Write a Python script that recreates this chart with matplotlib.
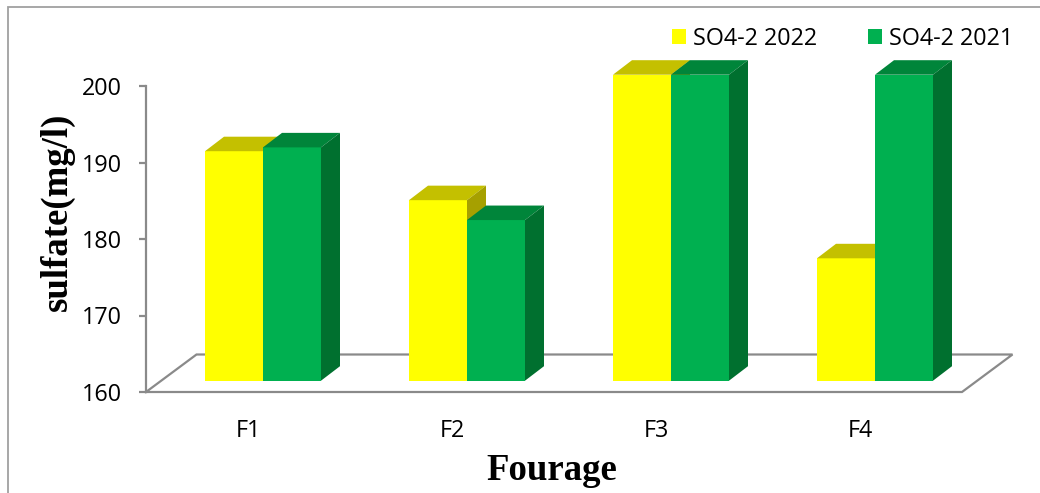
import matplotlib
matplotlib.use("Agg")
import matplotlib.pyplot as plt
from matplotlib.patches import Polygon, Rectangle, Patch
from matplotlib.lines import Line2D

# ---- data ----
categories = ["F1", "F2", "F3", "F4"]
so4_2022 = [190, 183.6, 200, 176]
so4_2021 = [190.5, 181, 200, 200]
series_labels = ["SO4-2 2022", "SO4-2 2021"]
y_ticks = [160, 170, 180, 190, 200]

# ---- styling ----
W, H = 1040, 493
YELLOW = dict(front="#FFFF00", top="#C4C000", side="#A6A000")
GREEN = dict(front="#00B050", top="#00853A", side="#00702F")
AXIS_GRAY = "#8A8A8A"
TICK_FONT = "Open Sans"
TITLE_FONT = "Liberation Serif"
LABEL_SIZE = 16.8

fig = plt.figure(figsize=(W / 100, H / 100), dpi=100)
fig.patch.set_facecolor("white")

# axes box = front edge of the floor and the value axis
ax_l, ax_r, ax_t, ax_b = 146, 962, 86, 392
ax = fig.add_axes([ax_l / W, (H - ax_b) / H, (ax_r - ax_l) / W, (ax_b - ax_t) / H])
ymin, ymax = 160, 200
ax.set_xlim(0, len(categories))
ax.set_ylim(ymin, ymax)
ax.set_facecolor("none")

# pixel -> data unit conversion for the oblique (depth) offsets
ux = len(categories) / (ax_r - ax_l)
uy = (ymax - ymin) / (ax_b - ax_t)

floor_dx, floor_dy = 50.5 * ux, 37.5 * uy     # full floor depth
front_dx, front_dy = 15 * ux, 11.3 * uy       # bar front plane inside the floor
bar_dx, bar_dy = 19 * ux, 14.5 * uy           # bar depth
bar_w = 58 * ux

# floor outline
fx = [0, len(categories), len(categories) + floor_dx, floor_dx, 0]
fy = [ymin, ymin, ymin + floor_dy, ymin + floor_dy, ymin]
ax.add_line(Line2D(fx, fy, color=AXIS_GRAY, lw=1.6, clip_on=False, zorder=1,
                   solid_joinstyle="miter"))


def draw_bar(x0, value, colors, z):
    """Oblique 3-D bar whose front face starts at x0 on the bar plane."""
    bx0 = x0 + front_dx
    bx1 = bx0 + bar_w
    base = ymin + front_dy
    top = value + front_dy
    front = ax.bar(bx0, value - ymin, width=bar_w, bottom=base, align="edge",
                   color=colors["front"], linewidth=0, zorder=z, clip_on=False)
    top_face = Polygon([(bx0, top), (bx1, top), (bx1 + bar_dx, top + bar_dy),
                        (bx0 + bar_dx, top + bar_dy)], closed=True,
                       facecolor=colors["top"], edgecolor="none", zorder=z,
                       clip_on=False)
    side_face = Polygon([(bx1, base), (bx1 + bar_dx, base + bar_dy),
                         (bx1 + bar_dx, top + bar_dy), (bx1, top)], closed=True,
                        facecolor=colors["side"], edgecolor="none", zorder=z,
                        clip_on=False)
    ax.add_patch(top_face)
    ax.add_patch(side_face)
    return front


z = 2
for i, cat in enumerate(categories):
    center = i + 0.5
    draw_bar(center - bar_w, so4_2022[i], YELLOW, z)
    z += 1
    draw_bar(center, so4_2021[i], GREEN, z)
    z += 1

# value axis
for s in ["top", "right", "bottom"]:
    ax.spines[s].set_visible(False)
ax.spines["left"].set_color(AXIS_GRAY)
ax.spines["left"].set_linewidth(1.6)
ax.set_yticks(y_ticks)
ax.set_yticklabels([str(v) for v in y_ticks], fontfamily=TICK_FONT,
                   fontsize=LABEL_SIZE)
ax.tick_params(axis="y", direction="out", length=5, width=1.6, color=AXIS_GRAY,
               pad=12.5, labelcolor="black")

# category axis labels
ax.set_xticks([i + 0.5 for i in range(len(categories))])
ax.set_xticklabels(categories, fontfamily=TICK_FONT, fontsize=LABEL_SIZE)
ax.tick_params(axis="x", length=0, pad=19.5)

# axis titles
fig.text(57 / W, (H - 212) / H, "sulfate(mg/l)", rotation=90, ha="center",
         va="center", fontfamily=TITLE_FONT, fontweight="bold", fontsize=26.5)
fig.text(552 / W, (H - 480) / H, "Fourage", ha="center", va="baseline",
         fontfamily=TITLE_FONT, fontweight="bold", fontsize=26.5)

# legend
handles = [Patch(facecolor=YELLOW["front"], edgecolor="none", label=series_labels[0]),
           Patch(facecolor=GREEN["front"], edgecolor="none", label=series_labels[1])]
fig.legend(handles=handles, ncol=2, frameon=False, loc="center left",
           bbox_to_anchor=(671.7 / W, (H - 39) / H), borderaxespad=0, borderpad=0,
           prop=dict(family=TICK_FONT, size=LABEL_SIZE), handlelength=0.6,
           handleheight=0.6, handletextpad=0.31, columnspacing=2.19)

# chart-area border
fig.add_artist(Rectangle((8 / W, -0.1), 1.2, (H - 7) / H + 0.1,
                         transform=fig.transFigure, fill=False,
                         edgecolor="#A0A0A0", linewidth=1.3))

fig.savefig("out.png", dpi=100)
